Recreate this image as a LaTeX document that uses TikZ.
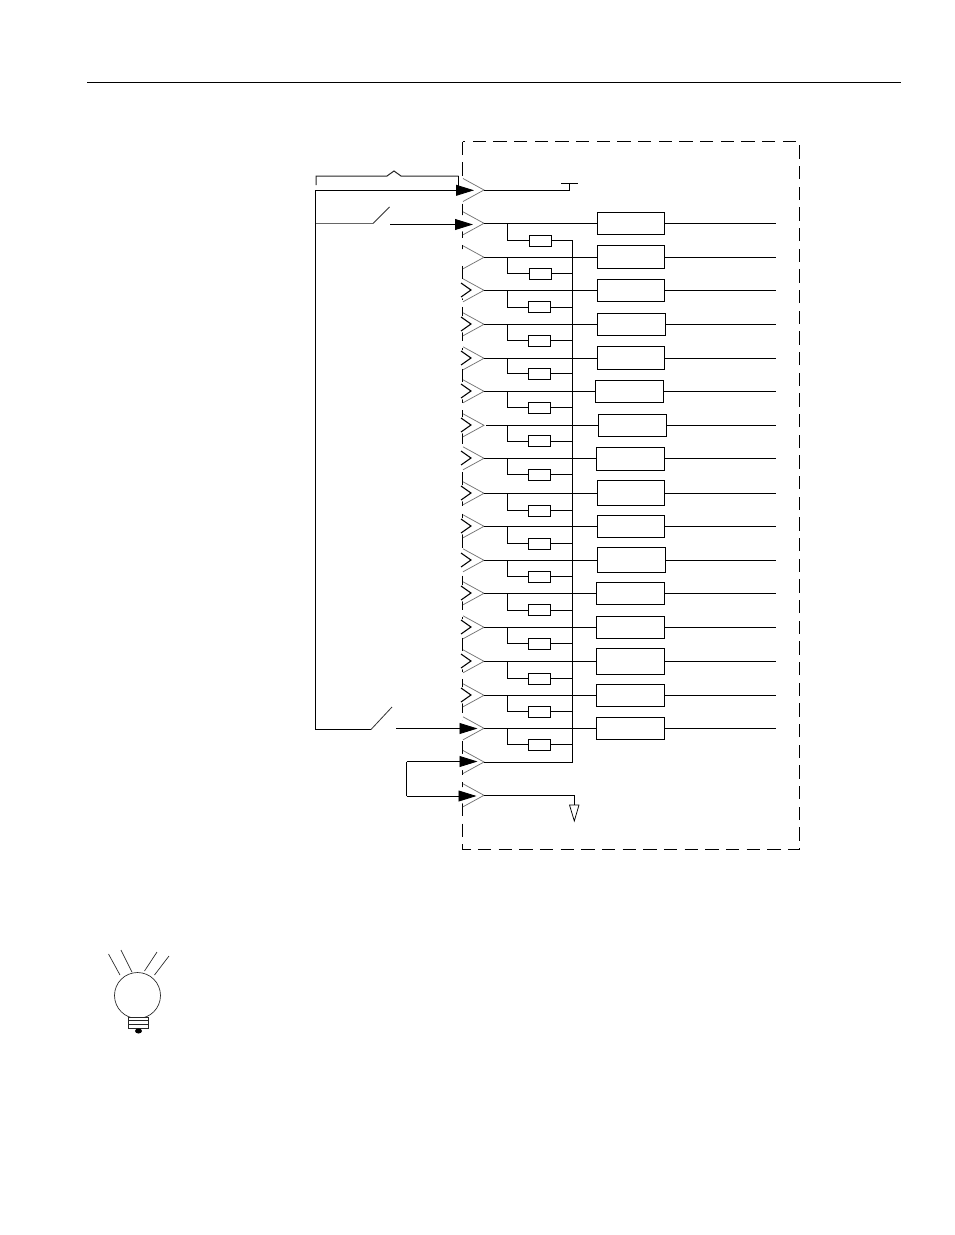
\documentclass[tikz,border=0pt]{standalone}
\usetikzlibrary{arrows.meta}
\tikzset{
  wire/.style={line width=0.65pt,black},
  chevron/.style={line width=0.55pt,black!55},
  inner chevron/.style={line width=0.8pt,black},
  relay/.style={draw,line width=0.65pt,inner sep=0pt,outer sep=0pt},
  resistor/.style={draw,line width=0.65pt,inner sep=0pt,outer sep=0pt,minimum width=17pt,minimum height=8.3pt},
  solid tip/.style={-{Triangle[length=13.5pt,width=8.2pt]},line width=0.65pt},
  lamp/.style={line width=0.5pt,black!85}
}
\begin{document}
\begin{tikzpicture}[x=0.75pt,y=-0.75pt]
\useasboundingbox (0,0) rectangle (954,1235);
\fill[white] (0,0) rectangle (954,1235);
% page rule
\coordinate (ruleL) at (87,82.5); \coordinate (ruleR) at (901,82.5);
\draw[line width=0.7pt] (ruleL) -- (ruleR);
% dashed enclosure
\draw[line width=0.7pt,dash pattern=on 10pt off 5.5pt] (462.5,141.5) rectangle (799.5,849.5);
% connector chevrons: white patch hides the frame between the blades
\foreach \n/\y in {a/190,b/223.3,c/257.3,d/290.3,e/324.3,f/358.3,g/391.3,h/425.3,i/458.3,j/493.3,k/526.3,l/560.3,m/593.3,n/627.3,o/661.3,p/695.3,q/728.3,r/762,s/795.3}{
  \coordinate (pin\n) at (484,\y);
  \fill[white] (460,\y-9) -- (484,\y) -- (460,\y+9) -- cycle;
  \draw[chevron] (463,\y-11.5) -- (pin\n) -- (463,\y+11.5);
}
% small inner chevrons on the signal pins
\foreach \y in {290,324,358,391,425,458,493,526,560,593,627,661,695}{
  \draw[inner chevron] (461,\y-7) -- (471,\y) -- (461,\y+7);
}
% relays, resistors and their wiring
\coordinate (busT) at (572.5,240.5);
\coordinate (busB) at (572.5,762);
\foreach \i/\ya/\xs/\xa/\xb/\ta/\tb/\rx/\ry in {
 1/223.3/484/597/664/212/234/529/240.7,
 2/257.3/484/597/664/245/268/529/273.8,
 3/290.3/484/597/664/279/301/528/307,
 4/324.3/484/597/665/313/335/528/340.5,
 5/358.3/484/597/664/346/369/528/373.7,
 6/391.3/484/595/663/380/402/528/407.5,
 7/425.3/486/598/666/414/436/528/441.2,
 8/458.3/484/596/664/447/470/528/474.5,
 9/493.3/484/597/664/480/505/528/510.5,
 10/526.3/484/597/664/515/537/528/543.5,
 11/560.3/484/597/665/547/572/528/576.7,
 12/593.3/484/596/664/582/604/528/610.3,
 13/627.3/484/596/664/616/638/528/643.7,
 14/661.3/484/596/664/648/674/528/678.5,
 15/695.3/484/596/664/684/706/528/711.5,
 16/728.3/484/596/664/717/739/528/744.5}{
  \node[relay,minimum width={(\xb-\xa)*0.75pt},minimum height={(\tb-\ta)*0.75pt}] (box\i) at ({(\xa+\xb)/2},{(\ta+\tb)/2+0.3}) {};
  \node[resistor] (res\i) at (\rx+11.5,\ry) {};
  \coordinate (start\i) at (\xs,\ya);
  \coordinate (tap\i) at (507.5,\ya);
  \coordinate (out\i) at (776,\ya);
  \draw[wire] (start\i) -- (start\i -| box\i.west);
  \draw[wire] (box\i.east |- start\i) -- (out\i);
  \draw[wire] (tap\i) |- (res\i.west);
  \draw[wire] (res\i.east) -- (res\i.east -| busT);
}
\draw[wire] (busT) -- (busB) -- (pinr);
% top pin to chassis stub
\coordinate (stubB) at (569,190);
\coordinate (stubT) at (569,183);
\coordinate (stubL) at (561,183);
\coordinate (stubR) at (578,183);
\draw[wire] (pina) -- (stubB) -- (stubT);
\draw[wire] (stubL) -- (stubR);
% lower pin to open triangle
\coordinate (gndA) at (574.5,795.3);
\coordinate (gndB) at (574.5,805);
\draw[wire] (pins) -- (gndA) -- (gndB);
\coordinate (triL) at (569.5,805);
\coordinate (triR) at (579,805);
\coordinate (triT) at (574.3,821);
\draw[line width=0.55pt] (triL) -- (triR) -- (triT) -- cycle;
% brace above the top pin
\coordinate (brL) at (316,185);
\coordinate (brR) at (458.5,176);
\draw[line width=0.75pt,black!85] (brL) -- (316,176) -- (387,176) -- (394,171) -- (401,176) -- (brR);
\draw[wire] (brR) -- (458.5,186);
% common feed with the two switches
\coordinate (feedT) at (315.5,190.3);
\coordinate (feedB) at (315.5,729.5);
\coordinate (sw1a) at (315.5,223.5);
\coordinate (sw1b) at (373,223.5);
\coordinate (sw1c) at (389.5,207);
\coordinate (sw1d) at (390,224.5);
\coordinate (sw2a) at (371,729.5);
\coordinate (sw2b) at (392,707);
\coordinate (sw2c) at (396,728.5);
\draw[wire] (feedT) -- (feedB) -- (sw2a);
\draw[line width=0.6pt,black!80] (sw2a) -- (sw2b);
\draw[line width=0.8pt,black!60] (sw1a) -- (sw1b);
\draw[line width=0.6pt,black!80] (sw1b) -- (sw1c);
\draw[wire,solid tip] (feedT) -- (474,190.3);
\draw[wire,solid tip] (sw1d) -- (473,224.5);
\draw[wire,solid tip] (sw2c) -- (477.5,728.5);
% jumper between the last two pins
\coordinate (jpT) at (406.5,761.5);
\coordinate (jpB) at (406.5,796);
\draw[wire] (jpB) -- (jpT);
\draw[wire,solid tip] (jpT) -- (477.5,761.5);
\draw[wire,solid tip] (jpB) -- (476.5,796);
% lamp icon
\draw[lamp] (137.5,995.5) circle[radius=23];
\fill[white] (128.5,1017) rectangle (148.5,1028);
\draw[lamp] (128.5,1017) -- (128.5,1028) -- (148.5,1028) -- (148.5,1017);
\foreach \y in {1017,1020.5,1024.5,1028}{\draw[lamp] (128.5,\y) -- (148.5,\y);}
\fill (138.5,1031) ellipse[x radius=3.5,y radius=2.5];
\draw[lamp] (108.5,954) -- (120,975);
\draw[lamp] (121,950) -- (132,972);
\draw[lamp] (157,952) -- (144.5,971);
\draw[lamp] (169,956) -- (154.5,975);
\end{tikzpicture}
\end{document}
